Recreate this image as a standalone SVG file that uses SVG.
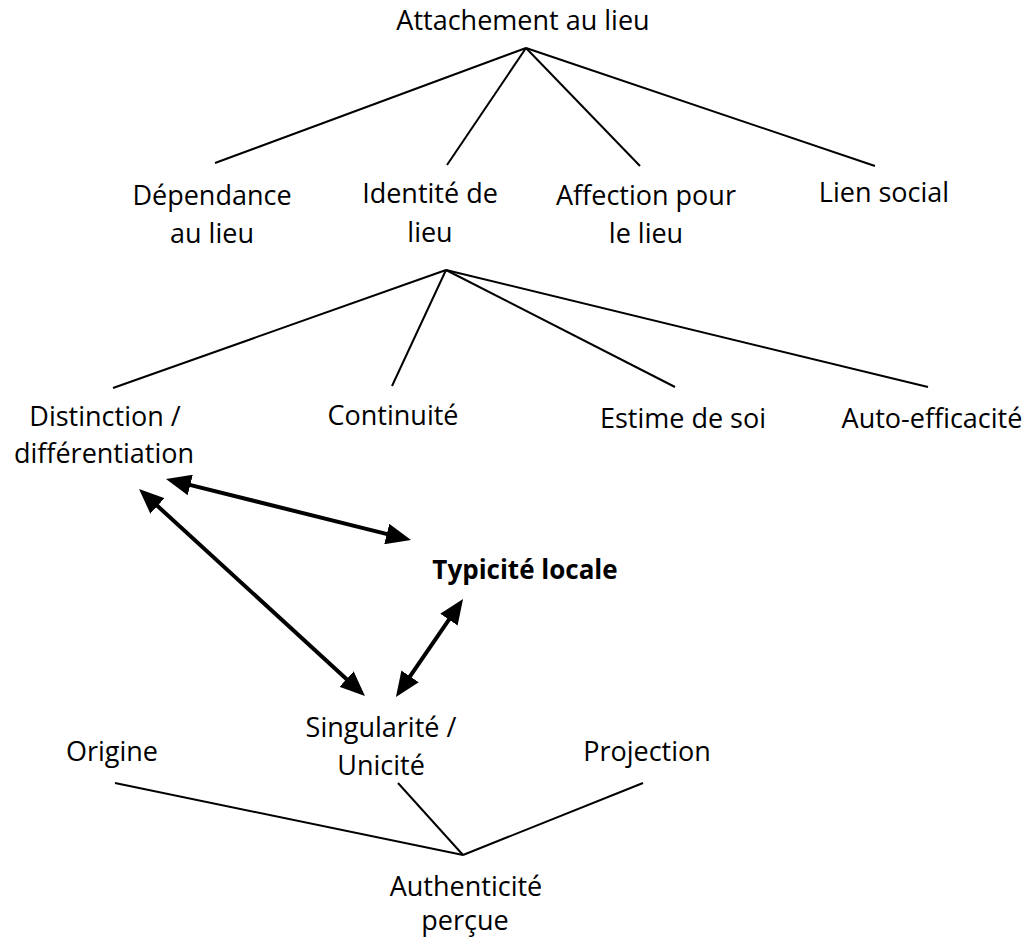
<svg xmlns="http://www.w3.org/2000/svg" width="1030" height="942" viewBox="0 0 1030 942">
<style>
text{font-family:"Open Sans","Noto Sans",sans-serif;font-size:27px;fill:#000;text-anchor:middle}
.b{font-weight:bold;font-size:26px}
.t{stroke:#000;stroke-width:2;fill:none}
.a{stroke:#000;stroke-width:4;fill:none;marker-start:url(#ah);marker-end:url(#ah)}
</style>
<defs>
<marker id="ah" markerUnits="userSpaceOnUse" markerWidth="25" markerHeight="21" refX="15" refY="10.5" orient="auto-start-reverse" viewBox="0 0 25 21">
<path d="M0,0 L25,10.5 L0,21 z" fill="#000"/>
</marker>
</defs>
<rect width="1030" height="942" fill="#fff"/>
<g id="connectors">
<line class="t" x1="526" y1="48" x2="215" y2="163"/>
<line class="t" x1="526" y1="48" x2="447" y2="165"/>
<line class="t" x1="526" y1="48" x2="640" y2="166"/>
<line class="t" x1="526" y1="48" x2="875" y2="166"/>
<line class="t" x1="446" y1="270" x2="113" y2="388"/>
<line class="t" x1="446" y1="270" x2="392" y2="386"/>
<line class="t" x1="446" y1="270" x2="675" y2="387"/>
<line class="t" x1="446" y1="270" x2="928" y2="387"/>
<line class="t" x1="463" y1="855" x2="115" y2="783"/>
<line class="t" x1="463" y1="855" x2="398" y2="783"/>
<line class="t" x1="463" y1="855" x2="643" y2="783"/>
<line class="a" x1="175.7" y1="481.4" x2="401.3" y2="537.6"/>
<line class="a" x1="146.4" y1="495.8" x2="357.6" y2="689.2"/>
<line class="a" x1="457.4" y1="607.3" x2="401.6" y2="688.7"/>
</g>
<g id="attachement"><text x="523" y="30">Attachement au lieu</text></g>
<g id="dependance"><text x="212" y="205">Dépendance</text><text x="212" y="243">au lieu</text></g>
<g id="identite"><text x="430" y="203">Identité de</text><text x="430" y="242">lieu</text></g>
<g id="affection"><text x="646" y="205">Affection pour</text><text x="646" y="243">le lieu</text></g>
<g id="lien"><text x="884" y="202">Lien social</text></g>
<g id="distinction"><text x="105" y="426">Distinction /</text><text x="104" y="463">différentiation</text></g>
<g id="continuite"><text x="393" y="425">Continuité</text></g>
<g id="estime"><text x="683" y="428">Estime de soi</text></g>
<g id="autoefficacite"><text x="932" y="428">Auto-efficacité</text></g>
<g id="typicite"><text class="b" x="525" y="579">Typicité locale</text></g>
<g id="singularite"><text x="381" y="737">Singularité /</text><text x="381" y="775">Unicité</text></g>
<g id="origine"><text x="112" y="761">Origine</text></g>
<g id="projection"><text x="647" y="761">Projection</text></g>
<g id="authenticite"><text x="466" y="896">Authenticité</text><text x="465" y="930">perçue</text></g>
</svg>
